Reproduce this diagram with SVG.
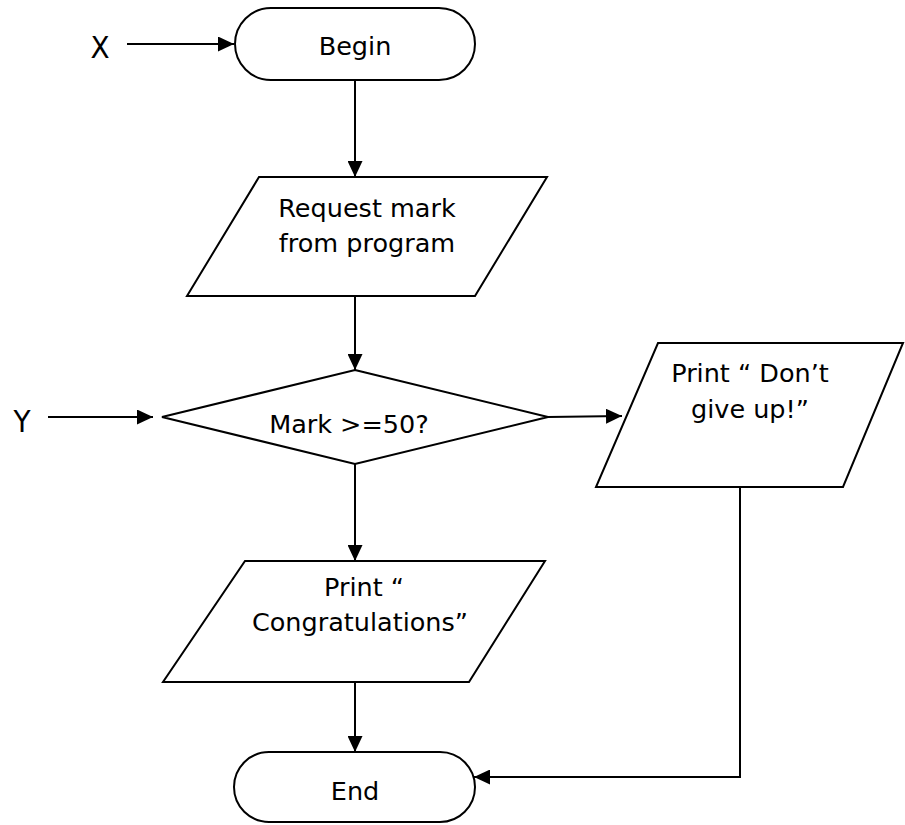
<svg xmlns="http://www.w3.org/2000/svg" width="905" height="825" viewBox="0 0 905 825">
<style>
.s{fill:#fff;stroke:#000;stroke-width:2}
.c{fill:none;stroke:#000;stroke-width:2}
text{font-family:"DejaVu Sans","Liberation Sans",sans-serif;font-size:25.5px;fill:#000;text-anchor:middle}
.big{font-family:"DejaVu Sans Condensed","Liberation Sans",sans-serif;font-size:31px}
</style>
<defs>
<marker id="a" viewBox="0 0 16 15" refX="16" refY="7.5" markerWidth="16" markerHeight="15" markerUnits="userSpaceOnUse" orient="auto">
<path d="M0,0 L16,7.5 L0,15 Z" fill="#000"/>
</marker>
</defs>
<g id="connectors">
<line class="c" x1="127" y1="44" x2="234" y2="44" marker-end="url(#a)"/>
<line class="c" x1="355" y1="80" x2="355" y2="177" marker-end="url(#a)"/>
<line class="c" x1="355" y1="296" x2="355" y2="370" marker-end="url(#a)"/>
<line class="c" x1="48" y1="417" x2="153" y2="417" marker-end="url(#a)"/>
<line class="c" x1="548" y1="417" x2="622" y2="416" marker-end="url(#a)"/>
<line class="c" x1="355" y1="464" x2="355" y2="561" marker-end="url(#a)"/>
<line class="c" x1="355" y1="682" x2="355" y2="752" marker-end="url(#a)"/>
<polyline class="c" points="740,487 740,777 474,777" marker-end="url(#a)"/>
</g>
<g id="labelX"><text class="big" x="100" y="58">X</text></g>
<g id="labelY"><text class="big" x="22" y="432">Y</text></g>
<g id="begin">
<rect class="s" x="235" y="8" width="240" height="72" rx="36"/>
<text x="355" y="55">Begin</text>
</g>
<g id="request">
<polygon class="s" points="259,177 547,177 475,296 187,296"/>
<text x="367" y="217">Request mark</text>
<text x="367" y="252">from program</text>
</g>
<g id="decision">
<polygon class="s" points="355,370 548,417 355,464 162,417"/>
<text x="349" y="433">Mark &gt;=50?</text>
</g>
<g id="dontgiveup">
<polygon class="s" points="658,343 903,343 843,487 596,487"/>
<text x="750" y="382">Print “ Don’t</text>
<text x="750" y="418">give up!”</text>
</g>
<g id="congrats">
<polygon class="s" points="245,561 545,561 469,682 163,682"/>
<text x="364" y="596">Print “</text>
<text x="360" y="631">Congratulations”</text>
</g>
<g id="end">
<rect class="s" x="234" y="752" width="241" height="70" rx="35"/>
<text x="355" y="800">End</text>
</g>
</svg>
